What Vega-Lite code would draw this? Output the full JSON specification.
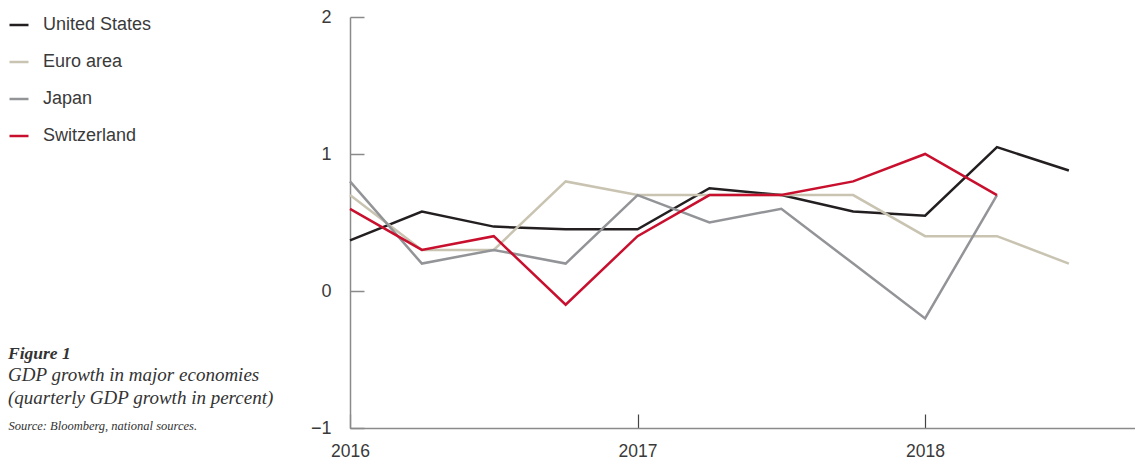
{
  "$schema": "https://vega.github.io/schema/vega-lite/v6.json",
  "width": 785,
  "height": 411,
  "autosize": "none",
  "padding": {"left": 350, "top": 17, "right": 0, "bottom": 31},
  "background": "white",
  "title": {
    "text": "Figure 1",
    "subtitle": ["GDP growth in major economies", "(quarterly GDP growth in percent)"],
    "orient": "bottom",
    "anchor": "start",
    "frame": "group",
    "offset": 0,
    "dx": -342,
    "dy": -115,
    "font": "Liberation Serif",
    "fontStyle": "italic",
    "fontWeight": "bold",
    "fontSize": 17.5,
    "color": "#333333",
    "subtitleFont": "Liberation Serif",
    "subtitleFontStyle": "italic",
    "subtitleFontSize": 19,
    "subtitleColor": "#333333",
    "subtitleLineHeight": 23,
    "subtitlePadding": 4
  },
  "data": {
    "values": [
      {"series": "United States", "t": 2016.0, "v": 0.37},
      {"series": "United States", "t": 2016.25, "v": 0.58},
      {"series": "United States", "t": 2016.5, "v": 0.47},
      {"series": "United States", "t": 2016.75, "v": 0.45},
      {"series": "United States", "t": 2017.0, "v": 0.45},
      {"series": "United States", "t": 2017.25, "v": 0.75},
      {"series": "United States", "t": 2017.5, "v": 0.7},
      {"series": "United States", "t": 2017.75, "v": 0.58},
      {"series": "United States", "t": 2018.0, "v": 0.55},
      {"series": "United States", "t": 2018.25, "v": 1.05},
      {"series": "United States", "t": 2018.5, "v": 0.88},
      {"series": "Euro area", "t": 2016.0, "v": 0.7},
      {"series": "Euro area", "t": 2016.25, "v": 0.3},
      {"series": "Euro area", "t": 2016.5, "v": 0.3},
      {"series": "Euro area", "t": 2016.75, "v": 0.8},
      {"series": "Euro area", "t": 2017.0, "v": 0.7},
      {"series": "Euro area", "t": 2017.25, "v": 0.7},
      {"series": "Euro area", "t": 2017.5, "v": 0.7},
      {"series": "Euro area", "t": 2017.75, "v": 0.7},
      {"series": "Euro area", "t": 2018.0, "v": 0.4},
      {"series": "Euro area", "t": 2018.25, "v": 0.4},
      {"series": "Euro area", "t": 2018.5, "v": 0.2},
      {"series": "Japan", "t": 2016.0, "v": 0.8},
      {"series": "Japan", "t": 2016.25, "v": 0.2},
      {"series": "Japan", "t": 2016.5, "v": 0.3},
      {"series": "Japan", "t": 2016.75, "v": 0.2},
      {"series": "Japan", "t": 2017.0, "v": 0.7},
      {"series": "Japan", "t": 2017.25, "v": 0.5},
      {"series": "Japan", "t": 2017.5, "v": 0.6},
      {"series": "Japan", "t": 2017.75, "v": 0.2},
      {"series": "Japan", "t": 2018.0, "v": -0.2},
      {"series": "Japan", "t": 2018.25, "v": 0.7},
      {"series": "Switzerland", "t": 2016.0, "v": 0.6},
      {"series": "Switzerland", "t": 2016.25, "v": 0.3},
      {"series": "Switzerland", "t": 2016.5, "v": 0.4},
      {"series": "Switzerland", "t": 2016.75, "v": -0.1},
      {"series": "Switzerland", "t": 2017.0, "v": 0.4},
      {"series": "Switzerland", "t": 2017.25, "v": 0.7},
      {"series": "Switzerland", "t": 2017.5, "v": 0.7},
      {"series": "Switzerland", "t": 2017.75, "v": 0.8},
      {"series": "Switzerland", "t": 2018.0, "v": 1.0},
      {"series": "Switzerland", "t": 2018.25, "v": 0.7}
    ]
  },
  "mark": {"type": "line", "strokeWidth": 2.5, "clip": false},
  "encoding": {
    "x": {
      "field": "t",
      "type": "quantitative",
      "scale": {"domain": [2016, 2018.73], "nice": false, "zero": false},
      "axis": {
        "values": [2016, 2017, 2018],
        "format": "d",
        "title": null,
        "grid": false,
        "domainColor": "#8a8a8a",
        "domainWidth": 1.5,
        "tickColor": "#444444",
        "tickWidth": 1.2,
        "tickSize": -14,
        "labelPadding": 28,
        "labelFont": "Liberation Sans",
        "labelFontSize": 17.5,
        "labelColor": "#3a3a3a",
        "labelFlush": false
      }
    },
    "y": {
      "field": "v",
      "type": "quantitative",
      "scale": {"domain": [-1, 2], "nice": false, "zero": false},
      "axis": {
        "values": [-1, 0, 1, 2],
        "format": "d",
        "title": "Source: Bloomberg, national sources.",
        "titleAngle": 0,
        "titleX": -342,
        "titleY": 408,
        "titleAlign": "left",
        "titleBaseline": "middle",
        "titleFont": "Liberation Serif",
        "titleFontStyle": "italic",
        "titleFontWeight": "normal",
        "titleFontSize": 12.5,
        "titleColor": "#333333",
        "grid": false,
        "domainColor": "#8a8a8a",
        "domainWidth": 1.5,
        "tickColor": "#8a8a8a",
        "tickWidth": 1.5,
        "tickSize": -14,
        "labelPadding": 33,
        "labelFont": "Liberation Sans",
        "labelFontSize": 18,
        "labelColor": "#3a3a3a",
        "labelFlush": false
      }
    },
    "color": {
      "field": "series",
      "type": "nominal",
      "sort": ["United States", "Euro area", "Japan", "Switzerland"],
      "scale": {
        "domain": ["United States", "Euro area", "Japan", "Switzerland"],
        "range": ["#231f20", "#c9c3b1", "#939497", "#c8102e"]
      },
      "legend": {
        "orient": "none",
        "legendX": -342,
        "legendY": -3,
        "title": null,
        "symbolType": "stroke",
        "symbolSize": 361,
        "symbolStrokeWidth": 2.5,
        "labelFont": "Liberation Sans",
        "labelFontSize": 18,
        "labelColor": "#3a3a3a",
        "labelOffset": 13,
        "rowPadding": 17
      }
    }
  },
  "config": {"view": {"stroke": null}}
}
